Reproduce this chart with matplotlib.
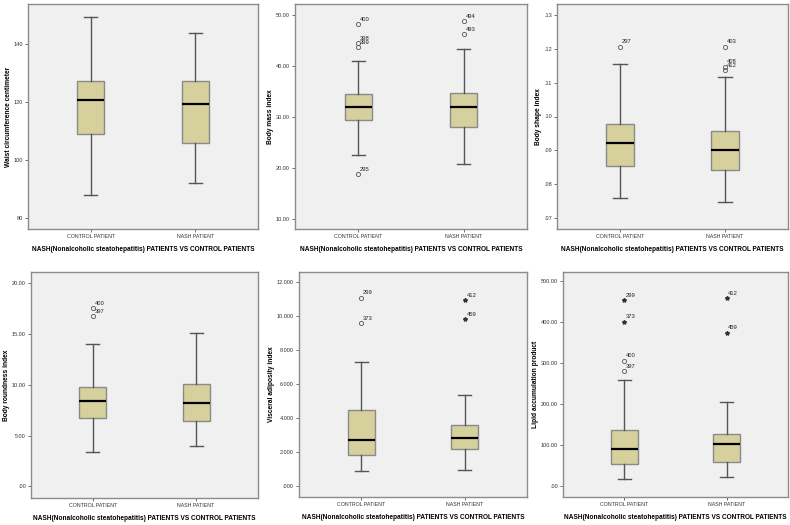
import matplotlib
matplotlib.use("Agg")
import matplotlib.pyplot as plt

SANS = ['Liberation Sans', 'DejaVu Sans']

groups = ["CONTROL PATIENT", "NASH PATIENT"]
xlabel = "NASH(Nonalcoholic steatohepatitis) PATIENTS VS CONTROL PATIENTS"

# five-number summaries: [whislo, q1, med, q3, whishi] for control, nash
waist_ctrl = [87.9, 108.9, 120.5, 127.1, 149.1]
waist_nash = [92.0, 106.0, 119.4, 127.1, 143.8]
bmi_ctrl = [22.6, 29.5, 32.0, 34.6, 41.0]
bmi_nash = [20.7, 28.0, 31.9, 34.8, 43.3]
absi_ctrl = [0.0759, 0.0854, 0.0921, 0.0978, 0.1155]
absi_nash = [0.0747, 0.0842, 0.0900, 0.0958, 0.1118]
bri_ctrl = [3.41, 6.72, 8.43, 9.77, 14.03]
bri_nash = [3.93, 6.43, 8.20, 10.07, 15.08]
vai_ctrl = [0.92, 1.82, 2.73, 4.47, 7.29]
vai_nash = [0.98, 2.18, 2.86, 3.61, 5.37]
lap_ctrl = [18.7, 55.0, 90.0, 138.0, 260.0]
lap_nash = [23.6, 58.5, 103.0, 127.6, 207.0]

# outliers: (value, case id, marker) ; 'o' = outlier, '*' = extreme
bmi_ctrl_out = [(48.2, "400", "o"), (44.5, "398", "o"), (43.7, "399", "o"), (18.8, "295", "o")]
bmi_nash_out = [(48.9, "494", "o"), (46.3, "493", "o")]
absi_ctrl_out = [(0.1206, "297", "o")]
absi_nash_out = [(0.1206, "403", "o"), (0.1147, "408", "o"), (0.1138, "412", "o")]
bri_ctrl_out = [(17.54, "400", "o"), (16.72, "397", "o")]
vai_ctrl_out = [(11.1, "299", "o"), (9.61, "373", "o")]
vai_nash_out = [(10.94, "412", "*"), (9.86, "459", "*")]
lap_ctrl_out = [(454.6, "299", "*"), (402.0, "373", "*"), (307.0, "400", "o"), (280.5, "397", "o")]
lap_nash_out = [(460.0, "412", "*"), (375.0, "459", "*")]

waist_ticks = [80, 100, 120, 140]
waist_ticklabels = ["80", "100", "120", "140"]
bmi_ticks = [10, 20, 30, 40, 50]
bmi_ticklabels = ["10.00", "20.00", "30.00", "40.00", "50.00"]
absi_ticks = [0.07, 0.08, 0.09, 0.10, 0.11, 0.12, 0.13]
absi_ticklabels = [".07", ".08", ".09", ".10", ".11", ".12", ".13"]
bri_ticks = [0, 5, 10, 15, 20]
bri_ticklabels = [".00", "5.00", "10.00", "15.00", "20.00"]
vai_ticks = [0, 2, 4, 6, 8, 10, 12]
vai_ticklabels = [".000", "2.000", "4.000", "6.000", "8.000", "10.000", "12.000"]
lap_ticks = [0, 100, 200, 300, 400, 500]
lap_ticklabels = [".00", "100.00", "200.00", "300.00", "400.00", "500.00"]

W, H = 790, 525
fig = plt.figure(figsize=(7.9, 5.25), dpi=100)
fig.patch.set_facecolor("white")

panels = [
    dict(rect=(28, 4, 258, 229), ylim=(76.3, 153.6), ylabel="Waist circumference centimeter",
         stats=(waist_ctrl, waist_nash), outs=([], []), ticks=waist_ticks, tl=waist_ticklabels),
    dict(rect=(295, 4, 527, 229), ylim=(8.0, 52.2), ylabel="Body mass index",
         stats=(bmi_ctrl, bmi_nash), outs=(bmi_ctrl_out, bmi_nash_out), ticks=bmi_ticks, tl=bmi_ticklabels),
    dict(rect=(557, 4, 788, 229), ylim=(0.0668, 0.1332), ylabel="Body shape index",
         stats=(absi_ctrl, absi_nash), outs=(absi_ctrl_out, absi_nash_out), ticks=absi_ticks, tl=absi_ticklabels),
    dict(rect=(31, 272, 258, 498), ylim=(-1.14, 21.08), ylabel="Body roundness index",
         stats=(bri_ctrl, bri_nash), outs=(bri_ctrl_out, []), ticks=bri_ticks, tl=bri_ticklabels),
    dict(rect=(299, 272, 527, 497), ylim=(-0.63, 12.61), ylabel="Visceral adiposity index",
         stats=(vai_ctrl, vai_nash), outs=(vai_ctrl_out, vai_nash_out), ticks=vai_ticks, tl=vai_ticklabels),
    dict(rect=(563, 272, 788, 497), ylim=(-25.9, 523.0), ylabel="Lipid accumulation product",
         stats=(lap_ctrl, lap_nash), outs=(lap_ctrl_out, lap_nash_out), ticks=lap_ticks, tl=lap_ticklabels),
]

BOXFILL = "#D5D09C"
EDGE = "#8a8a8a"
WHISK = "#555555"

for p in panels:
    l, t, r, b = p["rect"]
    ax = fig.add_axes([l / W, 1 - b / H, (r - l) / W, (b - t) / H])
    ax.set_facecolor("#F0F0F0")
    stats = []
    for s, lab in zip(p["stats"], groups):
        stats.append(dict(whislo=s[0], q1=s[1], med=s[2], q3=s[3], whishi=s[4], label=lab, fliers=[]))
    ax.bxp(stats, positions=[1, 2], widths=0.26, capwidths=0.125, patch_artist=True, showfliers=False,
           boxprops=dict(facecolor=BOXFILL, edgecolor=EDGE, linewidth=1.0),
           medianprops=dict(color="black", linewidth=1.6),
           whiskerprops=dict(color=WHISK, linewidth=1.0),
           capprops=dict(color=WHISK, linewidth=1.0))
    for pos, outs in zip([1, 2], p["outs"]):
        for val, cid, mk in outs:
            if mk == "o":
                ax.plot(pos, val, marker="o", markersize=3.0, markerfacecolor="none",
                        markeredgecolor="#555555", markeredgewidth=0.6, linestyle="none")
            else:
                ax.plot(pos, val, marker="*", markersize=3.0, color="#333333", linestyle="none")
            ax.annotate(cid, (pos, val), xytext=(1.2, 1.6), textcoords="offset points",
                        fontsize=4.2, family=SANS, color="#222222", ha="left", va="bottom")
    ax.set_xlim(0.4, 2.6)
    ax.set_ylim(*p["ylim"])
    ax.set_yticks(p["ticks"])
    ax.set_yticklabels(p["tl"], fontsize=4.0, family=SANS, color="#333333")
    ax.set_xticks([1, 2])
    ax.set_xticklabels(groups, fontsize=3.8, family=SANS, color="#333333")
    ax.tick_params(axis="both", length=2.5, width=0.6, color="#555555", pad=1.2)
    ax.set_ylabel(p["ylabel"], fontsize=4.8, fontweight="bold", family=SANS, labelpad=1.2)
    ax.set_xlabel(xlabel, fontsize=4.7, fontweight="bold", family=SANS, labelpad=5)
    for sp in ax.spines.values():
        sp.set_color("#8c8c8c")
        sp.set_linewidth(1.0)

fig.savefig("out.png", dpi=100, facecolor="white")
